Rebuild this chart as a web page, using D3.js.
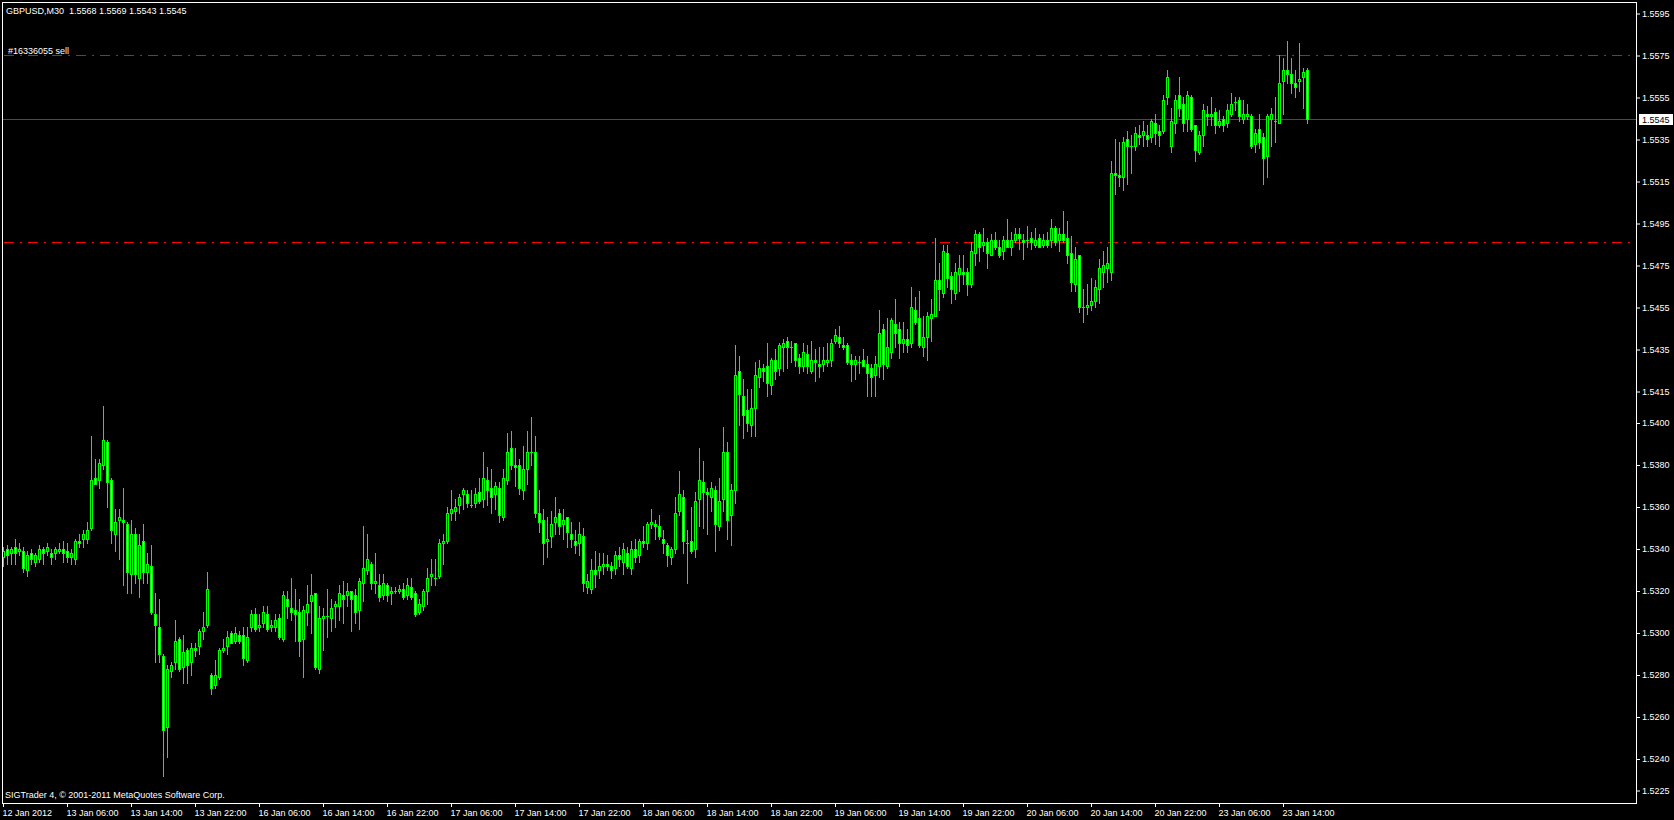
<!DOCTYPE html>
<html><head><meta charset="utf-8">
<script src="https://cdn.jsdelivr.net/npm/d3@7"></script>
<style>
html,body{margin:0;padding:0;background:#000;overflow:hidden}
svg{display:block}
text{font-family:"Liberation Sans",Arial,sans-serif;font-size:9px;fill:#fff;white-space:pre}
</style></head><body>
<svg id="c" width="1674" height="820"></svg>
<script>
const symbolTitle = "GBPUSD,M30  1.5568 1.5569 1.5543 1.5545";
const orderLabel = "#16336055 sell";
const footerText = "SIGTrader 4, \u00a9 2001-2011 MetaQuotes Software Corp.";

const open = [
1.5336,1.5340,1.5338,1.5341,1.5339,1.5339,1.5330,1.5338,1.5334,1.5335,
1.5340,1.5339,1.5338,1.5338,1.5339,1.5340,1.5339,1.5336,1.5335,1.5344,
1.5345,1.5345,1.5350,1.5374,1.5373,1.5380,1.5391,1.5373,1.5347,1.5354,
1.5354,1.5352,1.5328,1.5347,1.5326,1.5344,1.5329,1.5332,1.5309,1.5303,
1.5289,1.5255,1.5282,1.5286,1.5297,1.5284,1.5292,1.5286,1.5293,1.5294,
1.5301,1.5304,1.5280,1.5275,1.5279,1.5292,1.5294,1.5300,1.5296,1.5299,
1.5299,1.5287,1.5303,1.5309,1.5303,1.5305,1.5309,1.5303,1.5303,1.5307,
1.5297,1.5316,1.5312,1.5311,1.5310,1.5297,1.5310,1.5315,1.5319,1.5283,
1.5307,1.5308,1.5307,1.5313,1.5313,1.5318,1.5318,1.5320,1.5318,1.5311,
1.5324,1.5330,1.5333,1.5324,1.5323,1.5318,1.5323,1.5319,1.5320,1.5320,
1.5321,1.5318,1.5322,1.5319,1.5310,1.5313,1.5320,1.5327,1.5326,1.5327,
1.5343,1.5344,1.5357,1.5358,1.5361,1.5366,1.5366,1.5361,1.5362,1.5367,
1.5364,1.5373,1.5369,1.5366,1.5369,1.5355,1.5373,1.5388,1.5380,1.5380,
1.5368,1.5378,1.5386,1.5386,1.5357,1.5354,1.5344,1.5346,1.5353,1.5357,
1.5352,1.5355,1.5347,1.5344,1.5343,1.5346,1.5322,1.5321,1.5330,1.5330,
1.5332,1.5333,1.5332,1.5331,1.5337,1.5334,1.5338,1.5331,1.5340,1.5337,
1.5344,1.5343,1.5352,1.5352,1.5351,1.5345,1.5342,1.5336,1.5340,1.5358,
1.5365,1.5343,1.5344,1.5340,1.5364,1.5372,1.5367,1.5365,1.5368,1.5351,
1.5364,1.5386,1.5356,1.5368,1.5425,1.5413,1.5406,1.5399,1.5407,1.5422,
1.5426,1.5427,1.5418,1.5430,1.5426,1.5436,1.5439,1.5436,1.5438,1.5431,
1.5427,1.5433,1.5425,1.5430,1.5428,1.5428,1.5429,1.5430,1.5439,1.5441,
1.5437,1.5437,1.5430,1.5428,1.5429,1.5430,1.5428,1.5426,1.5423,1.5427,
1.5445,1.5427,1.5434,1.5447,1.5445,1.5438,1.5440,1.5438,1.5454,1.5450,
1.5436,1.5441,1.5450,1.5451,1.5468,1.5462,1.5481,1.5470,1.5462,1.5471,
1.5472,1.5472,1.5466,1.5481,1.5490,1.5485,1.5486,1.5480,1.5487,1.5484,
1.5482,1.5487,1.5484,1.5487,1.5490,1.5487,1.5487,1.5488,1.5485,1.5488,
1.5485,1.5487,1.5487,1.5493,1.5487,1.5490,1.5488,1.5481,1.5466,1.5480,
1.5455,1.5455,1.5456,1.5458,1.5464,1.5472,1.5474,1.5472,1.5519,1.5518,
1.5517,1.5535,1.5532,1.5532,1.5537,1.5537,1.5537,1.5536,1.5543,1.5539,
1.5539,1.5555,1.5532,1.5543,1.5556,1.5552,1.5545,1.5555,1.5542,1.5529,
1.5537,1.5547,1.5546,1.5548,1.5542,1.5545,1.5543,1.5547,1.5553,1.5554,
1.5545,1.5546,1.5546,1.5533,1.5540,1.5536,1.5527,1.5545,1.5544,1.5543,
1.5563,1.5568,1.5566,1.5562,1.5563,1.5565,1.5568];

const high = [
1.5341,1.5342,1.5341,1.5345,1.5343,1.5341,1.5339,1.5340,1.5338,1.5342,
1.5341,1.5343,1.5340,1.5341,1.5343,1.5344,1.5343,1.5340,1.5345,1.5347,
1.5349,1.5353,1.5394,1.5383,1.5383,1.5408,1.5392,1.5374,1.5359,1.5359,
1.5369,1.5353,1.5354,1.5350,1.5347,1.5352,1.5338,1.5342,1.5319,1.5316,
1.5290,1.5285,1.5286,1.5306,1.5298,1.5299,1.5293,1.5295,1.5295,1.5302,
1.5310,1.5329,1.5281,1.5287,1.5293,1.5297,1.5301,1.5301,1.5303,1.5301,
1.5303,1.5303,1.5311,1.5312,1.5309,1.5313,1.5313,1.5306,1.5309,1.5309,
1.5320,1.5320,1.5326,1.5321,1.5316,1.5313,1.5323,1.5328,1.5319,1.5313,
1.5312,1.5321,1.5316,1.5315,1.5323,1.5325,1.5324,1.5320,1.5321,1.5326,
1.5351,1.5347,1.5334,1.5338,1.5328,1.5328,1.5324,1.5322,1.5322,1.5323,
1.5324,1.5326,1.5326,1.5320,1.5316,1.5321,1.5331,1.5335,1.5335,1.5345,
1.5347,1.5360,1.5368,1.5364,1.5366,1.5369,1.5368,1.5368,1.5369,1.5374,
1.5386,1.5379,1.5378,1.5372,1.5372,1.5378,1.5395,1.5396,1.5388,1.5383,
1.5389,1.5396,1.5403,1.5394,1.5368,1.5359,1.5355,1.5358,1.5365,1.5359,
1.5359,1.5355,1.5353,1.5349,1.5353,1.5350,1.5328,1.5335,1.5339,1.5338,
1.5338,1.5337,1.5334,1.5339,1.5341,1.5343,1.5341,1.5344,1.5345,1.5345,
1.5351,1.5353,1.5359,1.5354,1.5356,1.5349,1.5343,1.5341,1.5365,1.5377,
1.5368,1.5349,1.5360,1.5367,1.5388,1.5382,1.5369,1.5372,1.5370,1.5374,
1.5398,1.5391,1.5371,1.5437,1.5432,1.5421,1.5416,1.5416,1.5429,1.5430,
1.5428,1.5438,1.5431,1.5435,1.5438,1.5440,1.5441,1.5439,1.5438,1.5433,
1.5438,1.5437,1.5439,1.5435,1.5436,1.5436,1.5438,1.5440,1.5445,1.5446,
1.5441,1.5438,1.5433,1.5432,1.5432,1.5435,1.5432,1.5428,1.5432,1.5454,
1.5447,1.5450,1.5450,1.5459,1.5448,1.5448,1.5445,1.5465,1.5460,1.5463,
1.5451,1.5453,1.5459,1.5488,1.5476,1.5485,1.5485,1.5472,1.5476,1.5480,
1.5480,1.5474,1.5486,1.5492,1.5491,1.5493,1.5488,1.5490,1.5491,1.5487,
1.5489,1.5497,1.5491,1.5493,1.5493,1.5490,1.5494,1.5491,1.5493,1.5490,
1.5490,1.5491,1.5497,1.5494,1.5493,1.5501,1.5496,1.5489,1.5484,1.5480,
1.5464,1.5466,1.5469,1.5468,1.5478,1.5482,1.5484,1.5525,1.5535,1.5534,
1.5536,1.5539,1.5537,1.5541,1.5542,1.5544,1.5542,1.5545,1.5547,1.5542,
1.5556,1.5568,1.5550,1.5556,1.5565,1.5555,1.5558,1.5556,1.5542,1.5539,
1.5552,1.5551,1.5555,1.5550,1.5549,1.5546,1.5552,1.5557,1.5555,1.5555,
1.5554,1.5552,1.5547,1.5540,1.5547,1.5538,1.5547,1.5550,1.5555,1.5575,
1.5574,1.5582,1.5574,1.5568,1.5581,1.5569,1.5569];

const low = [
1.5332,1.5333,1.5333,1.5333,1.5337,1.5329,1.5327,1.5333,1.5332,1.5334,
1.5333,1.5337,1.5333,1.5335,1.5338,1.5334,1.5334,1.5333,1.5333,1.5341,
1.5341,1.5343,1.5349,1.5371,1.5369,1.5378,1.5360,1.5343,1.5339,1.5335,
1.5323,1.5319,1.5319,1.5324,1.5317,1.5324,1.5324,1.5309,1.5286,1.5286,
1.5232,1.5241,1.5279,1.5283,1.5282,1.5276,1.5276,1.5280,1.5289,1.5290,
1.5297,1.5303,1.5271,1.5274,1.5278,1.5291,1.5290,1.5295,1.5295,1.5295,
1.5285,1.5286,1.5301,1.5301,1.5301,1.5303,1.5301,1.5301,1.5301,1.5297,
1.5296,1.5307,1.5306,1.5296,1.5289,1.5279,1.5304,1.5300,1.5283,1.5281,
1.5292,1.5298,1.5301,1.5303,1.5306,1.5305,1.5313,1.5301,1.5305,1.5302,
1.5315,1.5328,1.5321,1.5319,1.5315,1.5316,1.5315,1.5314,1.5319,1.5319,
1.5316,1.5316,1.5316,1.5308,1.5309,1.5311,1.5314,1.5323,1.5323,1.5326,
1.5333,1.5343,1.5354,1.5354,1.5357,1.5359,1.5360,1.5360,1.5360,1.5362,
1.5360,1.5361,1.5357,1.5359,1.5353,1.5354,1.5371,1.5378,1.5370,1.5366,
1.5364,1.5371,1.5380,1.5355,1.5348,1.5333,1.5336,1.5341,1.5347,1.5347,
1.5345,1.5341,1.5341,1.5338,1.5337,1.5320,1.5319,1.5319,1.5322,1.5326,
1.5328,1.5330,1.5326,1.5328,1.5332,1.5328,1.5331,1.5328,1.5334,1.5334,
1.5341,1.5340,1.5350,1.5345,1.5345,1.5338,1.5332,1.5333,1.5338,1.5356,
1.5338,1.5324,1.5338,1.5336,1.5351,1.5350,1.5347,1.5358,1.5339,1.5349,
1.5358,1.5345,1.5342,1.5362,1.5399,1.5393,1.5396,1.5394,1.5394,1.5417,
1.5420,1.5413,1.5414,1.5421,1.5423,1.5425,1.5426,1.5429,1.5427,1.5424,
1.5425,1.5424,1.5424,1.5420,1.5422,1.5425,1.5427,1.5427,1.5438,1.5436,
1.5435,1.5428,1.5420,1.5421,1.5424,1.5427,1.5413,1.5413,1.5413,1.5422,
1.5421,1.5426,1.5431,1.5436,1.5431,1.5434,1.5434,1.5436,1.5447,1.5436,
1.5432,1.5430,1.5439,1.5451,1.5454,1.5460,1.5465,1.5457,1.5459,1.5463,
1.5466,1.5461,1.5465,1.5475,1.5477,1.5482,1.5474,1.5480,1.5483,1.5479,
1.5478,1.5484,1.5480,1.5486,1.5483,1.5478,1.5484,1.5483,1.5484,1.5484,
1.5484,1.5484,1.5484,1.5485,1.5482,1.5486,1.5476,1.5463,1.5463,1.5453,
1.5448,1.5452,1.5454,1.5455,1.5457,1.5465,1.5467,1.5468,1.5509,1.5513,
1.5511,1.5514,1.5519,1.5530,1.5533,1.5532,1.5532,1.5534,1.5533,1.5532,
1.5538,1.5552,1.5529,1.5538,1.5546,1.5539,1.5539,1.5539,1.5525,1.5528,
1.5532,1.5542,1.5542,1.5538,1.5541,1.5539,1.5541,1.5546,1.5549,1.5544,
1.5543,1.5545,1.5531,1.5529,1.5531,1.5514,1.5517,1.5532,1.5534,1.5543,
1.5547,1.5562,1.5557,1.5555,1.5558,1.5550,1.5543];

const close = [
1.5339,1.5337,1.5340,1.5338,1.5340,1.5331,1.5337,1.5335,1.5337,1.5340,
1.5338,1.5341,1.5336,1.5340,1.5340,1.5338,1.5336,1.5338,1.5344,1.5343,
1.5347,1.5349,1.5373,1.5371,1.5381,1.5392,1.5372,1.5349,1.5353,1.5355,
1.5353,1.5329,1.5347,1.5328,1.5342,1.5329,1.5333,1.5310,1.5304,1.5290,
1.5254,1.5283,1.5285,1.5296,1.5283,1.5291,1.5285,1.5293,1.5292,1.5301,
1.5303,1.5321,1.5274,1.5280,1.5292,1.5293,1.5298,1.5295,1.5300,1.5296,
1.5288,1.5298,1.5309,1.5302,1.5304,1.5310,1.5302,1.5304,1.5306,1.5298,
1.5318,1.5313,1.5310,1.5309,1.5296,1.5311,1.5314,1.5318,1.5284,1.5307,
1.5308,1.5308,1.5312,1.5314,1.5319,1.5316,1.5320,1.5316,1.5310,1.5325,
1.5331,1.5335,1.5324,1.5325,1.5317,1.5324,1.5318,1.5320,1.5320,1.5321,
1.5317,1.5323,1.5317,1.5309,1.5314,1.5320,1.5326,1.5328,1.5326,1.5343,
1.5344,1.5357,1.5359,1.5360,1.5365,1.5368,1.5362,1.5361,1.5366,1.5363,
1.5374,1.5368,1.5365,1.5370,1.5356,1.5374,1.5386,1.5380,1.5379,1.5369,
1.5378,1.5386,1.5386,1.5357,1.5353,1.5343,1.5345,1.5352,1.5355,1.5351,
1.5354,1.5348,1.5345,1.5342,1.5347,1.5324,1.5325,1.5330,1.5328,1.5332,
1.5333,1.5332,1.5330,1.5337,1.5335,1.5340,1.5332,1.5340,1.5336,1.5344,
1.5343,1.5352,1.5353,1.5351,1.5346,1.5343,1.5337,1.5340,1.5357,1.5366,
1.5344,1.5343,1.5339,1.5363,1.5373,1.5367,1.5366,1.5369,1.5352,1.5363,
1.5386,1.5354,1.5368,1.5423,1.5414,1.5404,1.5400,1.5407,1.5423,1.5426,
1.5425,1.5419,1.5430,1.5425,1.5437,1.5438,1.5436,1.5436,1.5430,1.5427,
1.5434,1.5427,1.5430,1.5429,1.5427,1.5430,1.5430,1.5438,1.5442,1.5438,
1.5436,1.5429,1.5428,1.5430,1.5429,1.5427,1.5424,1.5422,1.5428,1.5443,
1.5428,1.5436,1.5449,1.5443,1.5438,1.5440,1.5437,1.5455,1.5448,1.5437,
1.5441,1.5451,1.5452,1.5468,1.5464,1.5482,1.5469,1.5464,1.5472,1.5474,
1.5471,1.5466,1.5482,1.5490,1.5484,1.5486,1.5481,1.5487,1.5484,1.5480,
1.5487,1.5484,1.5487,1.5490,1.5488,1.5486,1.5487,1.5486,1.5487,1.5484,
1.5487,1.5485,1.5493,1.5486,1.5490,1.5487,1.5480,1.5467,1.5478,1.5455,
1.5455,1.5456,1.5458,1.5465,1.5474,1.5475,1.5476,1.5519,1.5518,1.5517,
1.5534,1.5532,1.5532,1.5538,1.5536,1.5539,1.5535,1.5544,1.5538,1.5537,
1.5554,1.5565,1.5544,1.5554,1.5550,1.5543,1.5556,1.5540,1.5530,1.5537,
1.5549,1.5546,1.5547,1.5542,1.5544,1.5542,1.5549,1.5552,1.5553,1.5546,
1.5547,1.5547,1.5532,1.5538,1.5534,1.5526,1.5546,1.5547,1.5544,1.5562,
1.5568,1.5566,1.5562,1.5560,1.5564,1.5567,1.5545];

const timeLabels = ["12 Jan 2012","13 Jan 06:00","13 Jan 14:00","13 Jan 22:00","16 Jan 06:00",
  "16 Jan 14:00","16 Jan 22:00","17 Jan 06:00","17 Jan 14:00","17 Jan 22:00","18 Jan 06:00",
  "18 Jan 14:00","18 Jan 22:00","19 Jan 06:00","19 Jan 14:00","19 Jan 22:00","20 Jan 06:00",
  "20 Jan 14:00","20 Jan 22:00","23 Jan 06:00","23 Jan 14:00"];
const barsPerLabel = 16;
const priceTicks = [1.5595,1.5575,1.5555,1.5535,1.5515,1.5495,1.5475,1.5455,1.5435,1.5415,
  1.5400,1.5380,1.5360,1.5340,1.5320,1.5300,1.5280,1.5260,1.5240,1.5225];
const orderLevels = [1.5575, 1.5486];
const bidPrice = 1.5545;

const svg = d3.select("#c");
const L = 2, T = 2, R = 1636, B = 803;
const n = open.length;
const x = d3.scaleLinear().domain([0, n - 1]).range([3, 3 + 4 * (n - 1)]);
const y = d3.scaleLinear().domain([1.5225, 1.5595]).range([790.5, 13.5]);
const LIME = "#00ff00";

svg.append("rect").attr("width", 1674).attr("height", 820).attr("fill", "#000");

// bid line
svg.append("line").attr("x1", L + 1).attr("x2", R)
  .attr("y1", Math.round(y(bidPrice)) + 0.5).attr("y2", Math.round(y(bidPrice)) + 0.5)
  .attr("stroke", "#4a4a52").attr("stroke-width", 1);

// order lines
svg.selectAll("line.order").data(orderLevels).join("line").attr("class", "order")
  .attr("x1", L + 2).attr("x2", R)
  .attr("y1", d => Math.round(y(d)) + 0.5).attr("y2", d => Math.round(y(d)) + 0.5)
  .attr("stroke", "#ff0000").attr("stroke-width", 1)
  .attr("stroke-dasharray", "10,6,2,6");

// candles
const bars = d3.range(n).map(i => ({i, o: open[i], h: high[i], l: low[i], c: close[i]}));
const g = svg.append("g").attr("shape-rendering", "crispEdges");
const cg = g.selectAll("g.c").data(bars).join("g").attr("class", "c");
cg.append("rect")
  .attr("x", d => Math.round(x(d.i)))
  .attr("width", 1)
  .attr("y", d => Math.round(y(d.h)))
  .attr("height", d => Math.max(1, Math.round(y(d.l)) - Math.round(y(d.h)) + 1))
  .attr("fill", LIME);
cg.append("rect")
  .attr("x", d => Math.round(x(d.i)) - 1)
  .attr("width", 3)
  .attr("y", d => Math.round(y(Math.max(d.o, d.c))))
  .attr("height", d => Math.round(y(Math.min(d.o, d.c))) - Math.round(y(Math.max(d.o, d.c))) + 1)
  .attr("fill", LIME);
cg.filter(d => Math.round(y(Math.min(d.o, d.c))) - Math.round(y(Math.max(d.o, d.c))) >= 2)
  .append("rect")
  .attr("x", d => Math.round(x(d.i)))
  .attr("width", 1)
  .attr("y", d => Math.round(y(Math.max(d.o, d.c))) + 1)
  .attr("height", d => Math.round(y(Math.min(d.o, d.c))) - Math.round(y(Math.max(d.o, d.c))) - 1)
  .attr("fill", d => d.c < d.o ? "#ffffff" : "#000000");

// frame
svg.append("rect").attr("x", L + 0.5).attr("y", T + 0.5)
  .attr("width", R - L).attr("height", B - T)
  .attr("fill", "none").attr("stroke", "#fff").attr("stroke-width", 1);

// price axis
const ya = svg.append("g").attr("transform", `translate(${R + 1},0)`).style("color", "#fff")
  .call(d3.axisRight(y).tickValues(priceTicks).tickFormat(d3.format(".4f")).tickSize(3).tickPadding(2));
ya.select(".domain").remove();
ya.selectAll("text").attr("fill", "#fff");

// bid price box
const by = Math.round(y(bidPrice));
svg.append("rect").attr("x", 1639).attr("y", by - 5).attr("width", 34).attr("height", 11).attr("fill", "#fff");
svg.append("text").attr("x", 1642).attr("y", by + 3.5).style("fill", "#000").text(d3.format(".4f")(bidPrice));

// time axis
const tickIdx = timeLabels.map((_, k) => k * barsPerLabel);
const xa = svg.append("g").attr("transform", `translate(0,${B})`).style("color", "#fff")
  .call(d3.axisBottom(x).tickValues(tickIdx).tickFormat((d, k) => timeLabels[k]).tickSize(4).tickPadding(3));
xa.select(".domain").remove();
xa.selectAll("text").attr("text-anchor", "start").attr("dx", -1);

// texts
svg.append("text").attr("x", 6).attr("y", 14).attr("xml:space", "preserve").text(symbolTitle);
svg.append("text").attr("x", 8).attr("y", 54).text(orderLabel);
svg.append("text").attr("x", 5).attr("y", 798).text(footerText);
</script>
</body></html>
